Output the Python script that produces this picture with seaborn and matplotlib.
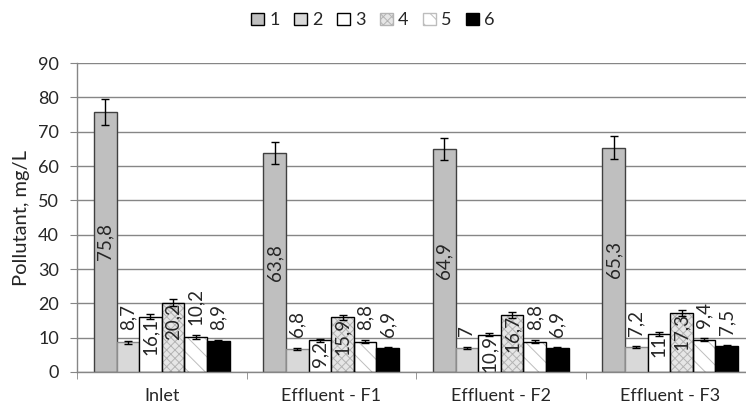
import matplotlib
matplotlib.use("Agg")
import matplotlib.pyplot as plt
import pandas as pd
import seaborn as sns
from matplotlib.patches import Patch, Rectangle

# chart data
categories = ["Inlet", "Effluent - F1", "Effluent - F2", "Effluent - F3"]
series = ["1", "2", "3", "4", "5", "6"]
values_1 = [75.8, 63.8, 64.9, 65.3]
values_2 = [8.7, 6.8, 7.0, 7.2]
values_3 = [16.1, 9.2, 10.9, 11.0]
values_4 = [20.2, 15.9, 16.7, 17.3]
values_5 = [10.2, 8.8, 8.8, 9.4]
values_6 = [8.9, 6.9, 6.9, 7.5]
errors_1 = [3.8, 3.2, 3.2, 3.3]
errors_2 = [0.4, 0.3, 0.35, 0.35]
errors_3 = [0.8, 0.5, 0.55, 0.55]
errors_4 = [1.0, 0.8, 0.85, 0.85]
errors_5 = [0.5, 0.45, 0.45, 0.45]
errors_6 = [0.45, 0.35, 0.35, 0.4]

all_values = [values_1, values_2, values_3, values_4, values_5, values_6]
all_errors = [errors_1, errors_2, errors_3, errors_4, errors_5, errors_6]

# styling per series: fill, outline, hatch, hatch colour, label placement
styles = [
    ("#bfbfbf", "#404040", None, None, "center"),
    ("#d9d9d9", "#8c8c8c", None, None, "above"),
    ("#ffffff", "#000000", None, None, "inside"),
    ("#e6e6e6", "#000000", "xxxx", "#b4b4b4", "inside"),
    ("#ffffff", "#000000", "\\\\", "#bdbdbd", "above"),
    ("#000000", "#000000", None, None, "above"),
]

rows = []
for name, vals in zip(series, all_values):
    for cat, v in zip(categories, vals):
        rows.append({"category": cat, "series": name, "value": v})
df = pd.DataFrame(rows)

sns.set_style("white")
plt.rcParams["font.family"] = ["Lato", "DejaVu Sans"]
plt.rcParams["hatch.linewidth"] = 0.7

fig, ax = plt.subplots(figsize=(7.46, 4.03), dpi=100)
ax.set_position([77 / 746, 1 - 372 / 403, (755 - 77) / 746, 309 / 403])

sns.barplot(
    data=df, x="category", y="value", hue="series", order=categories,
    hue_order=series, palette=[s[0] for s in styles], width=0.8,
    errorbar=None, legend=False, saturation=1, ax=ax, zorder=2,
)

grid_color = "#868686"
bar_containers = list(ax.containers)
for i, container in enumerate(bar_containers):
    fill, edge, hatch, hcolor, place = styles[i]
    for j, bar in enumerate(container):
        bar.set_facecolor(fill)
        if hatch:
            bar.set_hatch(hatch)
            bar.set_edgecolor(hcolor)
            bar.set_linewidth(0)
            ax.add_patch(Rectangle(bar.get_xy(), bar.get_width(), bar.get_height(),
                                   fill=False, edgecolor=edge, linewidth=1.0, zorder=3))
        else:
            bar.set_edgecolor(edge)
            bar.set_linewidth(1.0)
        xc = bar.get_x() + bar.get_width() / 2
        v = all_values[i][j]
        err = all_errors[i][j]
        ax.errorbar(xc, v, yerr=err, fmt="none", ecolor="black", elinewidth=1,
                    capsize=3, capthick=1, zorder=4)
        text = f"{v:g}".replace(".", ",")
        if place == "center":
            ax.text(xc, v / 2, text, rotation=90, ha="center", va="center",
                    fontsize=13.5, zorder=5)
        elif place == "inside":
            ax.text(xc, v - 0.2, text, rotation=90, ha="center", va="top",
                    fontsize=13.5, zorder=5)
        else:
            ax.text(xc, v + 3.4, text, rotation=90, ha="center", va="bottom",
                    fontsize=13.5, zorder=5)

ax.set_xlim(-0.5, 3.5)
ax.set_ylim(0, 90)
ax.set_yticks(range(0, 91, 10))
ax.set_xticks([-0.5, 0.5, 1.5, 2.5, 3.5], minor=True)
ax.yaxis.grid(True, color=grid_color, linewidth=1, zorder=0)
ax.set_axisbelow(True)
for side in ["top", "right"]:
    ax.spines[side].set_visible(False)
for side in ["left", "bottom"]:
    ax.spines[side].set_color(grid_color)
    ax.spines[side].set_linewidth(1)
ax.tick_params(axis="y", which="major", length=5, color=grid_color, labelsize=13, pad=8, left=True)
ax.tick_params(axis="x", which="major", length=0, labelsize=13, pad=11.5)
ax.tick_params(axis="x", which="minor", length=5, color=grid_color, bottom=True)
ax.set_xlabel("")
ax.set_ylabel("Pollutant, mg/L", fontsize=14.5, labelpad=6)

handles = []
for fill, edge, hatch, hcolor, place in styles:
    handles.append(Patch(facecolor=fill, edgecolor="#000000" if not hatch else hcolor,
                         hatch=hatch, linewidth=1))
fig.legend(handles, series, loc="upper center", bbox_to_anchor=(0.50, 1.01),
           ncol=6, frameon=False, fontsize=13, handlelength=0.7, handleheight=0.7,
           handletextpad=0.3, columnspacing=0.8)

fig.savefig("out.png", dpi=100)
